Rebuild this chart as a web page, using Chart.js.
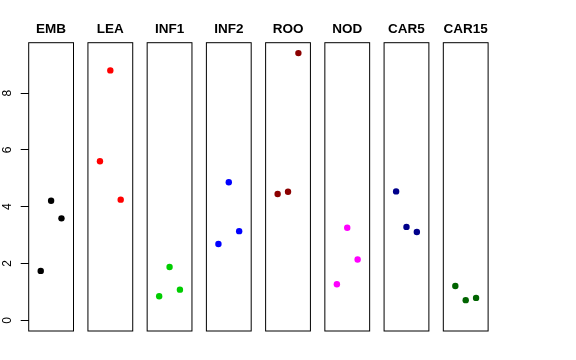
<!DOCTYPE html>
<html>
<head>
<meta charset="utf-8">
<script src="https://cdn.jsdelivr.net/npm/chart.js@4/dist/chart.umd.min.js"></script>
<style>
  body { margin: 0; background: #fff; }
  #wrap { position: relative; width: 576px; height: 360px; }
  #wrap canvas { position: absolute; left: 0; top: 0; }
</style>
</head>
<body>
<div id="wrap"></div>
<script>
// data
const groups = ['EMB', 'LEA', 'INF1', 'INF2', 'ROO', 'NOD', 'CAR5', 'CAR15'];
const reps = [1, 2, 3];
const emb = [1.74, 4.21, 3.59];
const lea = [5.60, 8.80, 4.25];
const inf1 = [0.85, 1.88, 1.08];
const inf2 = [2.69, 4.86, 3.14];
const roo = [4.45, 4.53, 9.41];
const nod = [1.27, 3.26, 2.14];
const car5 = [4.54, 3.29, 3.11];
const car15 = [1.21, 0.71, 0.79];
const yTicks = [0, 2, 4, 6, 8];

const values = [emb, lea, inf1, inf2, roo, nod, car5, car15];
const colors = ['#000000', '#FF0000', '#00CD00', '#0000FF', '#8B0000', '#FF00FF', '#00008B', '#006400'];

// panel geometry
const W = 576, H = 360;
const left0 = 28.7, pitch = 59.23, panelW = 44.8;
const padTop = 20.9, plotBottom = 331;
const titleSize = 13.5;

const framePlugin = {
  id: 'frame',
  beforeDatasetsDraw(chart) {
    const { ctx, chartArea: a } = chart;
    ctx.save();
    ctx.strokeStyle = '#000';
    ctx.lineWidth = 1;
    ctx.strokeRect(a.left, a.top, a.right - a.left, a.bottom - a.top);
    ctx.restore();
  }
};

const wrap = document.getElementById('wrap');

groups.forEach(function (name, k) {
  const canvas = document.createElement('canvas');
  canvas.width = W;
  canvas.height = H;
  wrap.appendChild(canvas);

  const left = left0 + pitch * k;
  const titleBottomPad = 42.7 - padTop - titleSize * 1.2;

  const yScale = {
    type: 'linear',
    min: -0.376,
    max: 9.776,
    display: k === 0,
    afterBuildTicks: function (s) { s.ticks = yTicks.map(function (v) { return { value: v }; }); },
    border: { display: false },
    grid: { drawOnChartArea: false, drawTicks: true, tickLength: 8, color: '#000', lineWidth: 1 },
    ticks: {
      minRotation: 90,
      maxRotation: 90,
      crossAlign: 'center',
      padding: 9.7,
      color: '#000',
      font: { family: 'Liberation Sans', size: 12 }
    }
  };
  if (k === 0) {
    yScale.afterFit = function (s) { s.width = left0; };
  }

  new Chart(canvas, {
    type: 'scatter',
    data: {
      datasets: [{
        data: reps.map(function (x, i) { return { x: x, y: values[k][i] }; }),
        backgroundColor: colors[k],
        borderWidth: 0,
        pointRadius: 3.2,
        pointHoverRadius: 3.2
      }]
    },
    options: {
      responsive: false,
      animation: false,
      devicePixelRatio: 1,
      layout: {
        padding: {
          left: k === 0 ? 0 : left,
          right: W - (left + panelW),
          top: padTop,
          bottom: H - plotBottom
        }
      },
      plugins: {
        legend: { display: false },
        tooltip: { enabled: false },
        title: {
          display: true,
          text: name,
          fullSize: false,
          color: '#000',
          font: { family: 'Liberation Sans', size: titleSize, weight: 'bold' },
          padding: { top: 0, bottom: titleBottomPad }
        }
      },
      scales: {
        x: { type: 'linear', min: -0.16, max: 4.16, display: false },
        y: yScale
      }
    },
    plugins: [framePlugin]
  });
});
</script>
</body>
</html>
